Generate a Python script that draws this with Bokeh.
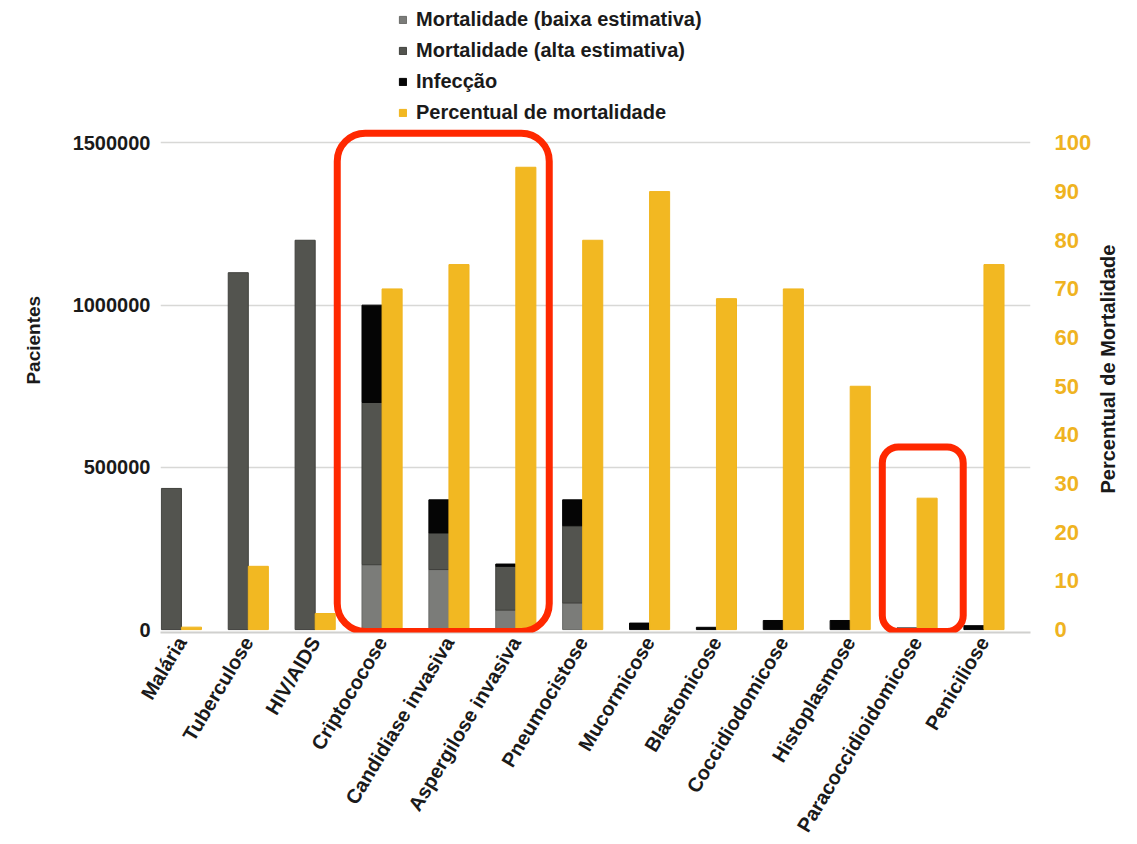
import math
from bokeh.plotting import figure
from bokeh.models import (Range1d, LinearAxis, FixedTicker, Legend, LegendItem,
                          BoxAnnotation, ColumnDataSource, PrintfTickFormatter)
from bokeh.embed import file_html
from bokeh.resources import INLINE

# ---------------- data ----------------
categorias = ["Malária", "Tuberculose", "HIV/AIDS", "Criptococose", "Candidiase invasiva",
              "Aspergilose invasiva", "Pneumocistose", "Mucormicose", "Blastomicose",
              "Coccidiodomicose", "Histoplasmose", "Paracoccidioidomicose", "Peniciliose"]
mortalidade_baixa = [0, 0, 0, 200000, 185000, 60000, 82000, 0, 0, 0, 0, 0, 0]
mortalidade_alta = [435000, 1100000, 1200000, 700000, 298000, 195000, 320000, 0, 0, 0, 0, 0, 0]
infeccao = [0, 0, 0, 1000000, 400000, 202000, 400000, 20000, 7000, 28000, 28000, 5000, 12000]
percentual = [0.5, 13, 3.3, 70, 75, 95, 80, 90, 68, 70, 50, 27, 75]
left_ticks = [0, 500000, 1000000, 1500000]
right_ticks = list(range(0, 101, 10))
# highlighted groups (first category, last category)
destaques = [("Criptococose", "Aspergilose invasiva"), ("Paracoccidioidomicose", "Paracoccidioidomicose")]

FONT = "Liberation Sans"
ORANGE = "#F2B822"
LIGHT = "#7B7C79"
DARK = "#53544F"
BLACK = "#050505"
RED = "#FF2800"
TXT = "#1A1A1A"
NBSP = "\u00a0"

n = len(categorias)
xs = [i + 1 for i in range(n)]
nan = float("nan")

low_top = [b if b > 0 else nan for b in mortalidade_baixa]
mid_bot = [b for b in mortalidade_baixa]
mid_top = [a if a > 0 else nan for a in mortalidade_alta]
blk_bot = [max(a, b) for a, b in zip(mortalidade_alta, mortalidade_baixa)]
blk_top = [f if f > 0 else nan for f in infeccao]

src = ColumnDataSource(dict(
    xl=[x - 0.15 for x in xs], xr=[x + 0.15 for x in xs],
    low_top=low_top, mid_bot=mid_bot, mid_top=mid_top,
    blk_bot=blk_bot, blk_top=blk_top, pct=percentual))

SCALE = 1500000 / 100.0
y0, y1 = -9000, 1939000
x0, x1 = 0.687, 13.696

p = figure(width=1137, height=844, output_backend="svg", toolbar_location=None,
           x_range=Range1d(x0, x1), y_range=Range1d(y0, y1),
           min_border_left=160, min_border_right=107, min_border_top=0, min_border_bottom=211)
p.outline_line_color = None
p.background_fill_color = "white"
p.extra_y_ranges = {"pct": Range1d(y0 / SCALE, y1 / SCALE)}

r_low = p.vbar(x="xl", width=0.3, bottom=0, top="low_top", source=src,
               fill_color=LIGHT, line_color="#6A6B68", line_width=1)
r_mid = p.vbar(x="xl", width=0.3, bottom="mid_bot", top="mid_top", source=src,
               fill_color=DARK, line_color="#40413D", line_width=1)
r_blk = p.vbar(x="xl", width=0.3, bottom="blk_bot", top="blk_top", source=src,
               fill_color=BLACK, line_color=BLACK, line_width=1)
r_pct = p.vbar(x="xr", width=0.3, bottom=0, top="pct", source=src, y_range_name="pct",
               fill_color=ORANGE, line_color="#F0B51E", line_width=1)

# grid
p.xgrid.visible = False
p.ygrid.ticker = FixedTicker(ticks=left_ticks[1:])
p.ygrid.grid_line_color = "#D8D8D6"
p.ygrid.grid_line_width = 1.5

# left axis
ya = p.yaxis[0]
ya.ticker = FixedTicker(ticks=left_ticks)
ya.formatter = PrintfTickFormatter(format="%d")
ya.axis_line_color = None
ya.major_tick_line_color = None
ya.minor_tick_line_color = None
ya.major_label_text_font = FONT
ya.major_label_text_font_style = "bold"
ya.major_label_text_font_size = "20px"
ya.major_label_text_color = TXT
ya.major_label_standoff = 4
ya.axis_label = "Pacientes" + NBSP * 9
ya.axis_label_text_font = FONT
ya.axis_label_text_font_style = "bold"
ya.axis_label_text_font_size = "19px"
ya.axis_label_text_color = TXT
ya.axis_label_standoff = 26

# right axis
props = LinearAxis().properties()
use_start = "axis_label_orientation" in props and "axis_label_align" in props
ra = LinearAxis(y_range_name="pct", ticker=FixedTicker(ticks=right_ticks),
                axis_label=(NBSP * 25 if use_start else "") + "Percentual de Mortalidade")
ra.axis_line_color = None
ra.major_tick_line_color = None
ra.minor_tick_line_color = None
ra.major_label_text_font = FONT
ra.major_label_text_font_style = "bold"
ra.major_label_text_font_size = "22px"
ra.major_label_text_color = "#EFB321"
ra.major_label_standoff = 18
ra.axis_label_text_font = FONT
ra.axis_label_text_font_style = "bold"
ra.axis_label_text_font_size = "20px"
ra.axis_label_text_color = TXT
ra.axis_label_standoff = 14
if "axis_label_orientation" in props:
    ra.axis_label_orientation = math.pi / 2
if use_start:
    ra.axis_label_align = "start"
p.add_layout(ra, "right")

# bottom axis
xa = p.xaxis[0]
xa.ticker = FixedTicker(ticks=xs)
xa.major_label_overrides = {x: c for x, c in zip(xs, categorias)}
xa.major_label_orientation = 1.03
xa.axis_line_color = "#D0D0CE"
xa.axis_line_width = 2
xa.major_tick_line_color = None
xa.minor_tick_line_color = None
xa.major_label_text_font = FONT
xa.major_label_text_font_style = "bold"
xa.major_label_text_font_size = "20px"
xa.major_label_text_color = TXT
xa.major_label_standoff = 0

# highlight boxes
pads = [(0.67, 0.5, 1530000, 28), (0.52, 0.69, 563000, 16)]
for (a, b), (pl, pr, top, rad) in zip(destaques, pads):
    box = BoxAnnotation(left=categorias.index(a) + 1 - pl, right=categorias.index(b) + 1 + pr,
                        bottom=-6000, top=top, fill_alpha=0, line_color=RED, line_alpha=1,
                        line_width=7, border_radius=rad)
    p.add_layout(box)

legend = Legend(items=[
    LegendItem(label="Mortalidade (baixa estimativa)", renderers=[r_low]),
    LegendItem(label="Mortalidade (alta estimativa)", renderers=[r_mid]),
    LegendItem(label="Infecção", renderers=[r_blk]),
    LegendItem(label="Percentual de mortalidade", renderers=[r_pct]),
], location=(238, 508), border_line_color=None, background_fill_alpha=0,
    label_text_font=FONT, label_text_font_style="bold", label_text_font_size="20px",
    label_text_color=TXT, glyph_width=9, glyph_height=9, label_standoff=9,
    spacing=8, padding=0, margin=0, label_height=20)
p.add_layout(legend)

open("out.html", "w").write(file_html(p, INLINE))
